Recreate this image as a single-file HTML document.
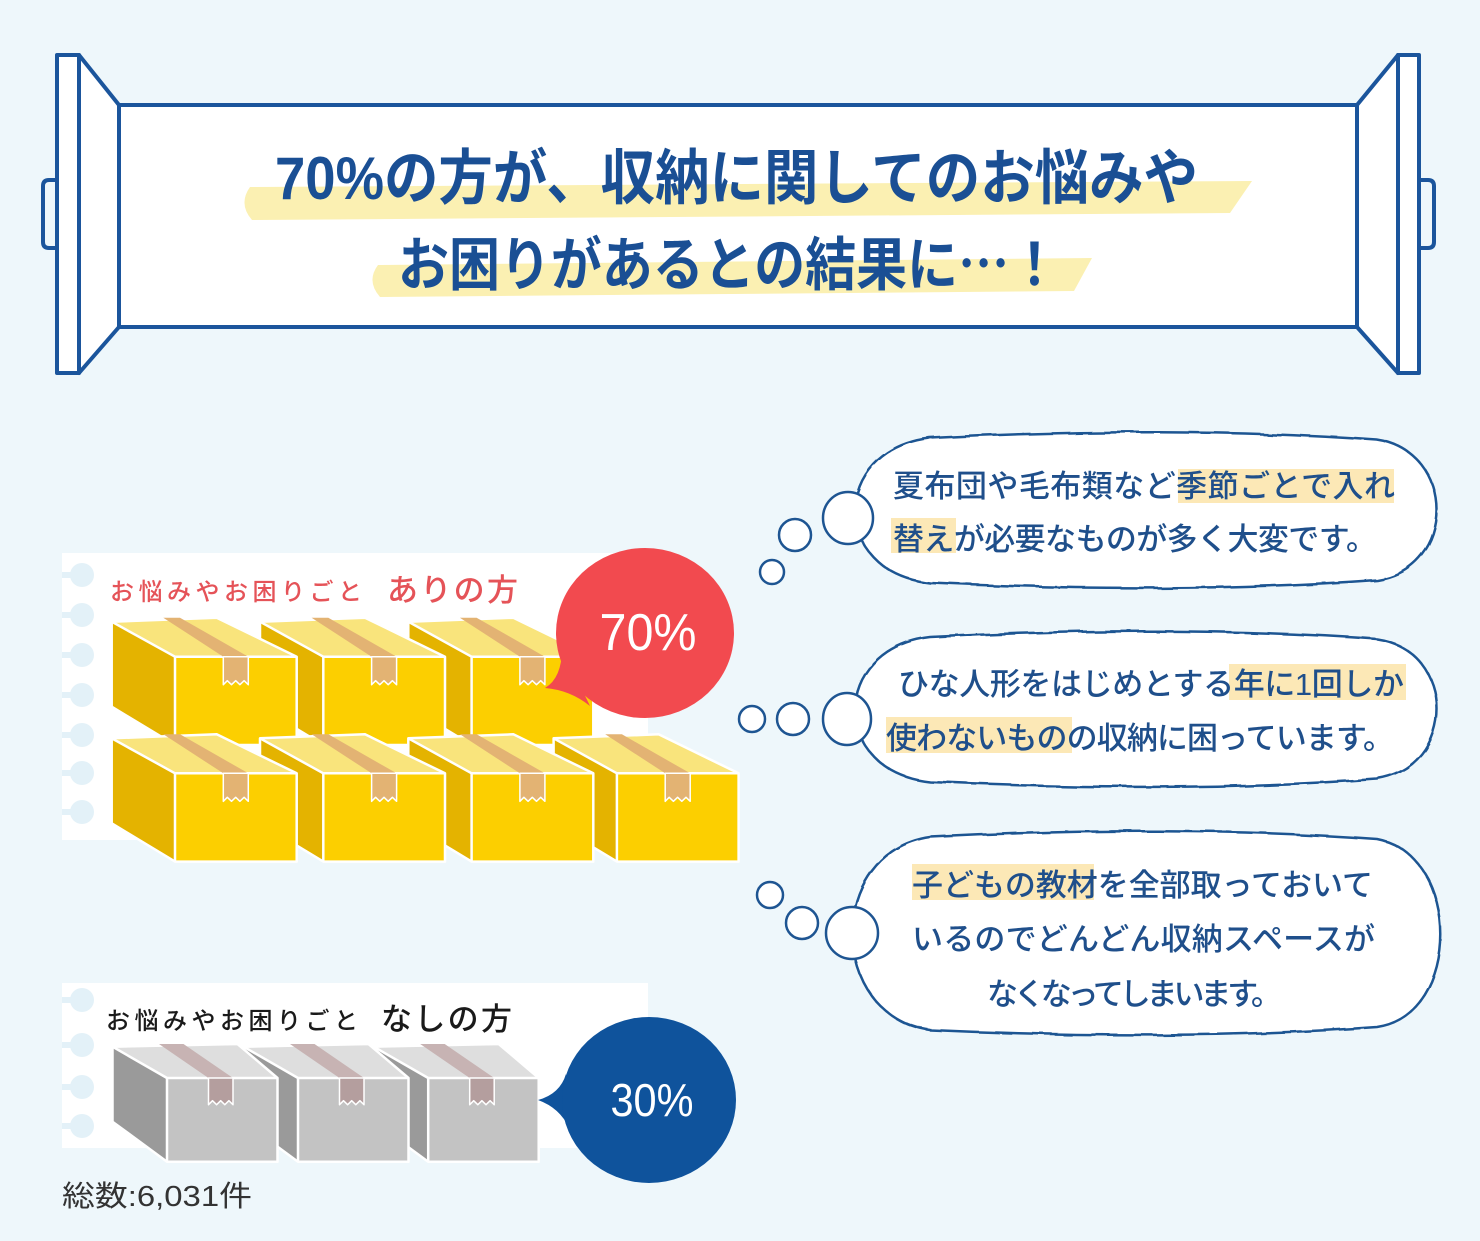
<!DOCTYPE html>
<html><head><meta charset="utf-8"><style>
html,body{margin:0;padding:0;background:#eef7fb;}
svg{display:block;}
text{font-family:"Liberation Sans","Noto Sans CJK JP",sans-serif;}
</style></head><body>
<svg width="1480" height="1241" viewBox="0 0 1480 1241" xmlns="http://www.w3.org/2000/svg">
<defs>
<filter id="rough" x="-5%" y="-10%" width="110%" height="120%">
<feTurbulence type="fractalNoise" baseFrequency="0.035" numOctaves="2" seed="3"/>
<feDisplacementMap in="SourceGraphic" scale="4"/>
</filter>
<g id="ybox">
<polygon points="0,0 63.3,35 63.3,123.3 0,85" fill="#e4b300"/>
<polygon points="0,0 105,-4 185,35 63.3,35" fill="#f9e47c"/>
<rect x="63.3" y="35" width="121.7" height="88.3" fill="#fccf00"/>
<g fill="none" stroke="#fff" stroke-width="2.5" stroke-linejoin="round">
<polygon points="0,0 105,-4 185,35 185,123.3 63.3,123.3 0,85"/>
<polyline points="0,0 63.3,35 185,35"/>
<line x1="63.3" y1="35" x2="63.3" y2="123.3"/>
</g>
<polygon points="51.6,-4 68.3,-4 136.6,35 111.6,35" fill="#e3b373"/>
<polygon points="111.6,35 136.6,35 136.6,63 132.4,59 128.2,63 124,59 119.8,63 115.6,59 111.6,63" fill="#e3b373" stroke="#fff" stroke-width="1.5" stroke-linejoin="round"/>
</g>
<g id="gbox">
<polygon points="0,0 54.5,31.3 54.5,115 0,75" fill="#9a9a9a"/>
<polygon points="0,0 125,-2.7 165,31.3 54.5,31.3" fill="#dedede"/>
<rect x="54.5" y="31.3" width="110.5" height="83.7" fill="#c3c3c3"/>
<g fill="none" stroke="#fff" stroke-width="2.5" stroke-linejoin="round">
<polygon points="0,0 125,-2.7 165,31.3 165,115 54.5,115 0,75"/>
<polyline points="0,0 54.5,31.3 165,31.3"/>
<line x1="54.5" y1="31.3" x2="54.5" y2="115"/>
</g>
<polygon points="46.5,-2.7 71,-2.7 120.5,31.3 96,31.3" fill="#c7b3b3"/>
<polygon points="96,31.3 120.5,31.3 120.5,58 116.4,54 112.3,58 108.2,54 104.1,58 100,54 96,58" fill="#b49e9e" stroke="#fff" stroke-width="1.5" stroke-linejoin="round"/>
</g>
</defs>

<rect width="1480" height="1241" fill="#eef7fb"/>

<!-- Banner -->
<g stroke="#1b559c" stroke-width="4" stroke-linejoin="round" fill="#fff">
<path d="M57,180 L49,180 Q43,180 43,186 L43,242 Q43,248 49,248 L57,248" fill="none"/>
<path d="M1420,180 L1428,180 Q1434,180 1434,186 L1434,242 Q1434,248 1428,248 L1420,248" fill="none"/>
<rect x="119" y="105" width="1238" height="222"/>
<polygon points="79,55 119,105 119,327 79,373"/>
<polygon points="1398,55 1357,105 1357,327 1398,373"/>
<rect x="57" y="55" width="22" height="318"/>
<rect x="1398" y="55" width="21" height="318"/>
</g>
<path d="M250,187 L1252,181 L1230,213 L252,220 Q238,204 250,187 Z" fill="#fbf0b2"/>
<path d="M378,265 L1092,258 L1074,291 L380,297 Q366,281 378,265 Z" fill="#fbf0b2"/>
<text x="275" y="199" font-size="60" font-weight="700" fill="#1a4f94" textLength="923" lengthAdjust="spacingAndGlyphs">70%の方が、収納に関してのお悩みや</text>
<text x="398" y="285" font-size="58" font-weight="700" fill="#1a4f94" textLength="662" lengthAdjust="spacingAndGlyphs">お困りがあるとの結果に<tspan font-family="Noto Sans CJK JP, sans-serif">…！</tspan></text>

<!-- Panel 1 -->
<rect x="62" y="553" width="586" height="287" fill="#fff"/>
<g fill="#e3f1f8">
<rect x="62" y="572" width="20" height="6"/><circle cx="82" cy="575" r="12"/>
<rect x="62" y="612" width="20" height="6"/><circle cx="82" cy="615" r="12"/>
<rect x="62" y="652" width="20" height="6"/><circle cx="82" cy="655" r="12"/>
<rect x="62" y="692" width="20" height="6"/><circle cx="82" cy="695" r="12"/>
<rect x="62" y="732" width="20" height="6"/><circle cx="82" cy="735" r="12"/>
<rect x="62" y="770" width="20" height="6"/><circle cx="82" cy="773" r="12"/>
<rect x="62" y="809" width="20" height="6"/><circle cx="82" cy="812" r="12"/>
</g>
<text x="110" y="600" font-size="24" font-weight="500" fill="#e55358" textLength="252" lengthAdjust="spacing">お悩みやお困りごと</text>
<text x="387" y="601" font-size="31" font-weight="500" fill="#e55358" textLength="131" lengthAdjust="spacing">ありの方</text>

<use href="#ybox" x="408.3" y="621.7"/>
<use href="#ybox" x="260" y="621.7"/>
<use href="#ybox" x="111.7" y="621.7"/>
<use href="#ybox" x="553.6" y="738.3"/>
<use href="#ybox" x="408.3" y="738.3"/>
<use href="#ybox" x="260" y="738.3"/>
<use href="#ybox" x="111.7" y="738.3"/>

<path d="M562,648 Q562,678 545,688 Q570,690 590,706 Z" fill="#f24a4f"/>
<ellipse cx="645" cy="633" rx="89" ry="85" fill="#f24a4f"/>
<text x="648" y="650" font-size="52" fill="#fff" text-anchor="middle" textLength="97" lengthAdjust="spacingAndGlyphs">70%</text>

<!-- Panel 2 -->
<rect x="62" y="983" width="586" height="165" fill="#fff"/>
<g fill="#e3f1f8">
<rect x="62" y="997" width="20" height="6"/><circle cx="82" cy="1000" r="12"/>
<rect x="62" y="1042" width="20" height="6"/><circle cx="82" cy="1045" r="12"/>
<rect x="62" y="1084" width="20" height="6"/><circle cx="82" cy="1087" r="12"/>
<rect x="62" y="1123" width="20" height="6"/><circle cx="82" cy="1126" r="12"/>
</g>
<text x="106" y="1029" font-size="24" font-weight="500" fill="#1a1a1a" textLength="252" lengthAdjust="spacing">お悩みやお困りごと</text>
<text x="381" y="1030" font-size="31" font-weight="500" fill="#1a1a1a" textLength="131" lengthAdjust="spacing">なしの方</text>

<use href="#gbox" x="373.7" y="1046.7"/>
<use href="#gbox" x="243.5" y="1046.7"/>
<use href="#gbox" x="112.5" y="1046.7"/>

<path d="M566,1074 Q560,1094 538,1100 Q560,1108 569,1128 Z" fill="#0f539c"/>
<ellipse cx="649" cy="1100" rx="87" ry="83" fill="#0f539c"/>
<text x="652" y="1116" font-size="46" fill="#fff" text-anchor="middle" textLength="83" lengthAdjust="spacingAndGlyphs">30%</text>

<text x="62" y="1206" font-size="29" fill="#333" textLength="190" lengthAdjust="spacingAndGlyphs">総数:6,031件</text>

<!-- Thought bubbles -->
<g fill="#fff" stroke="#1e5592" stroke-width="2.5" filter="url(#rough)">
<path d="M930,438 C1080,430 1240,430 1377,440 C1457,452 1457,568 1377,580 C1240,590 1080,590 930,583 C830,572 830,450 930,438 Z"/>
<path d="M930,637 C1080,629 1240,629 1377,639 C1457,651 1457,767 1377,779 C1240,789 1080,789 930,782 C830,771 830,649 930,637 Z"/>
<path d="M930,837 C1080,829 1240,829 1377,839 C1462,855 1462,1015 1377,1027 C1240,1037 1080,1037 930,1030 C826,1015 826,852 930,837 Z"/>
</g>
<g fill="#fff" stroke="#1e5592" stroke-width="2.5">
<ellipse cx="848" cy="518" rx="25" ry="26"/>
<circle cx="795" cy="535" r="16"/>
<circle cx="772" cy="572" r="12"/>
<ellipse cx="847" cy="719" rx="24" ry="26"/>
<circle cx="793" cy="719" r="16"/>
<circle cx="752" cy="719" r="13"/>
<ellipse cx="852" cy="933" rx="26" ry="26"/>
<circle cx="802" cy="923" r="16"/>
<circle cx="770" cy="895" r="13"/>
</g>
<!-- highlight -->
<g fill="#fce8b6">
<rect x="1178" y="469" width="216" height="34"/>
<rect x="891" y="518" width="65" height="35"/>
<rect x="1229" y="664" width="177" height="36"/>
<rect x="886" y="717" width="186" height="36"/>
<rect x="912" y="864" width="182" height="36"/>
</g>
<g font-size="31" font-weight="500" fill="#1f4f8b">
<text x="893" y="497" textLength="502" lengthAdjust="spacing">夏布団や毛布類など季節ごとで入れ</text>
<text x="893" y="550" textLength="484" lengthAdjust="spacing">替えが必要なものが多く大変です。</text>
<text x="898" y="695" textLength="506" lengthAdjust="spacing">ひな人形をはじめとする年に1回しか</text>
<text x="886" y="749" textLength="508" lengthAdjust="spacing">使わないものの収納に困っています。</text>
<text x="912" y="896" textLength="461" lengthAdjust="spacing">子どもの教材を全部取っておいて</text>
<text x="912" y="950" textLength="463" lengthAdjust="spacing">いるのでどんどん収納スペースが</text>
<text x="987" y="1005" textLength="295" lengthAdjust="spacing">なくなってしまいます。</text>
</g>
</svg>
</body></html>
